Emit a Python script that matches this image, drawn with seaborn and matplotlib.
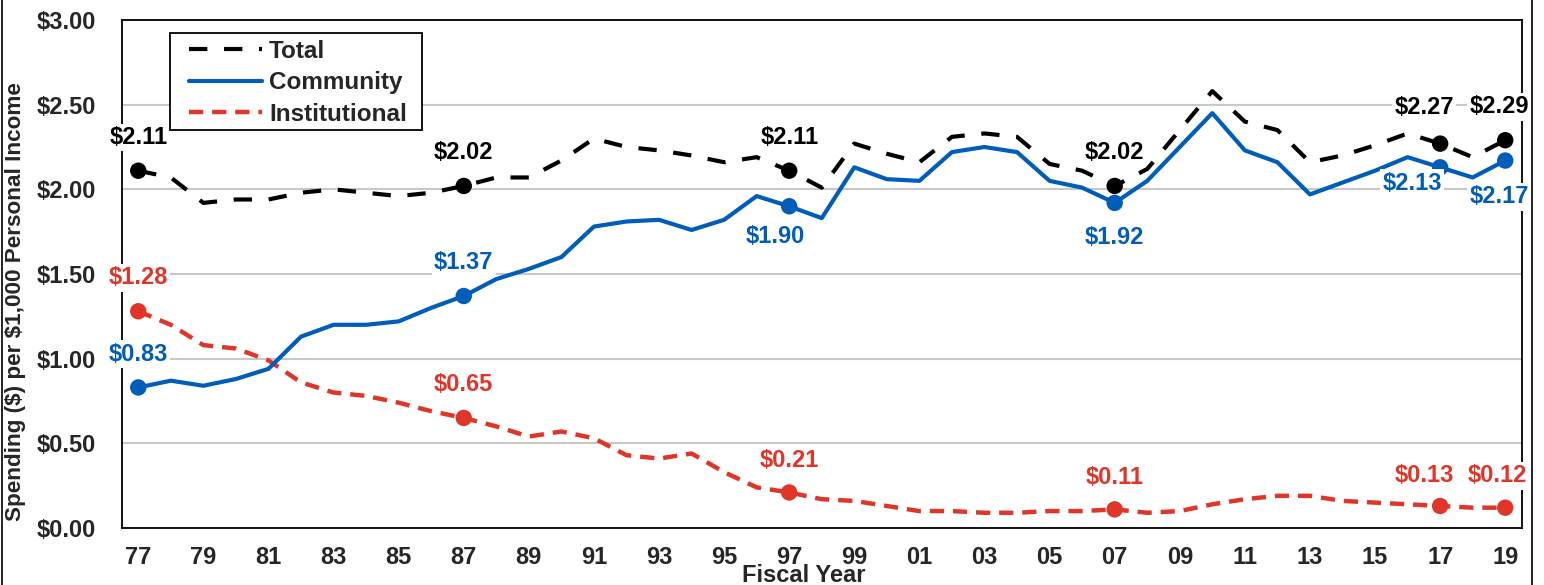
import matplotlib
matplotlib.use("Agg")
import matplotlib.pyplot as plt
import seaborn as sns
import pandas as pd
from matplotlib.lines import Line2D
from matplotlib.patches import Rectangle
from matplotlib.ticker import FuncFormatter, MultipleLocator

years = list(range(1977, 2020))
total = [2.11, 2.07, 1.92, 1.94, 1.94, 1.98, 2.00, 1.98, 1.96, 1.98,
         2.02, 2.07, 2.07, 2.17, 2.30, 2.25, 2.23, 2.20, 2.16, 2.19,
         2.11, 2.01, 2.27, 2.21, 2.16, 2.31, 2.33, 2.31, 2.15, 2.11,
         2.02, 2.12, 2.35, 2.58, 2.40, 2.35, 2.16, 2.20, 2.26, 2.33,
         2.27, 2.19, 2.29]
community = [0.83, 0.87, 0.84, 0.88, 0.94, 1.13, 1.20, 1.20, 1.22, 1.30,
             1.37, 1.47, 1.53, 1.60, 1.78, 1.81, 1.82, 1.76, 1.82, 1.96,
             1.90, 1.83, 2.13, 2.06, 2.05, 2.22, 2.25, 2.22, 2.05, 2.01,
             1.92, 2.05, 2.25, 2.45, 2.23, 2.16, 1.97, 2.04, 2.11, 2.19,
             2.13, 2.07, 2.17]
institutional = [1.28, 1.20, 1.08, 1.06, 0.99, 0.86, 0.80, 0.78, 0.74, 0.69,
                 0.65, 0.60, 0.54, 0.57, 0.53, 0.43, 0.41, 0.44, 0.33, 0.24,
                 0.21, 0.17, 0.16, 0.13, 0.10, 0.10, 0.09, 0.09, 0.10, 0.10,
                 0.11, 0.09, 0.10, 0.14, 0.17, 0.19, 0.19, 0.16, 0.15, 0.14,
                 0.13, 0.12, 0.12]
label_years = [1977, 1987, 1997, 2007, 2017, 2019]
series_names = ["Total", "Community", "Institutional"]

df = pd.DataFrame({"Year": years, "Total": total, "Community": community,
                   "Institutional": institutional})

sns.set_style("white")
plt.rcParams["font.family"] = ["Liberation Sans", "DejaVu Sans"]
plt.rcParams["font.weight"] = "bold"

BLACK = "#000000"
BLUE = "#005DB9"
RED = "#E0362A"
W, H = 1544, 585

fig = plt.figure(figsize=(15.44, 5.85), dpi=100)
ax = fig.add_axes([122 / W, 57 / H, (1521.5 - 122) / W, 508 / H])

sns.lineplot(data=df, x="Year", y="Institutional", ax=ax, color=RED, lw=3.2,
             linestyle=(0, (3.2, 2.0)), label="Institutional", zorder=3)
sns.lineplot(data=df, x="Year", y="Total", ax=ax, color=BLACK, lw=3.0,
             linestyle=(0, (4.4, 4.0)), label="Total", zorder=4)
sns.lineplot(data=df, x="Year", y="Community", ax=ax, color=BLUE, lw=3.0,
             label="Community", zorder=5)

dots = df[df["Year"].isin(label_years)]
colors = {"Total": BLACK, "Community": BLUE, "Institutional": RED}
for name in series_names:
    sns.scatterplot(data=dots, x="Year", y=name, ax=ax, color=colors[name],
                    s=140, edgecolor="none", zorder=6, legend=False)

# label offsets (points)
offsets = {
    "Total": {1977: (0, 24), 1987: (0, 24), 1997: (0, 24), 2007: (0, 24),
              2017: (-11.5, 26), 2019: (-4.5, 24)},
    "Community": {1977: (0, 24), 1987: (0, 24), 1997: (-10, -22),
                  2007: (0, -25), 2017: (-20, -11.5), 2019: (-4.5, -26)},
    "Institutional": {1977: (0, 24), 1987: (0, 24), 1997: (0, 23),
                      2007: (0, 23), 2017: (-11.5, 22), 2019: (-5.5, 23)},
}
for name in series_names:
    for _, row in dots.iterrows():
        yr = int(row["Year"])
        ax.annotate(f"${row[name]:.2f}", (yr, row[name]),
                    xytext=offsets[name][yr], textcoords="offset points",
                    ha="center", va="center", fontsize=17, fontweight="bold",
                    color=colors[name], zorder=10,
                    bbox=dict(boxstyle="square,pad=0.1", fc="white", ec="none"))

ax.set_xlim(1976.5, 2019.5)
ax.set_ylim(0, 3.0)
ax.set_xticks(years[::2])
ax.set_xticklabels([f"{y % 100:02d}" for y in years[::2]])
ax.yaxis.set_major_locator(MultipleLocator(0.5))
ax.yaxis.set_major_formatter(FuncFormatter(lambda v, p: f"${v:.2f}"))
ax.tick_params(axis="both", length=0, labelsize=17)
ax.tick_params(axis="y", pad=19)
ax.tick_params(axis="x", pad=13)
for lab in ax.get_xticklabels() + ax.get_yticklabels():
    lab.set_fontweight("bold")
ax.grid(axis="y", color="#C8C8C8", lw=1.5, zorder=0)
ax.set_axisbelow(True)
for sp in ax.spines.values():
    sp.set_visible(True)
    sp.set_color("black")
    sp.set_linewidth(1.3)
ax.set_xlabel("")
ax.set_ylabel("")

# legend box drawn separately for exact padding
box = Rectangle((170 / W, 1 - 130 / H), 252 / W, 97 / H, transform=fig.transFigure,
                fc="white", ec="black", lw=1.3, zorder=15, clip_on=False)
ax.add_patch(box)

handles, labels = ax.get_legend_handles_labels()
order = [labels.index(n) for n in series_names]
leg = ax.legend([handles[i] for i in order], [labels[i] for i in order],
                loc="upper left", bbox_to_anchor=(189 / W, 1 - 39.5 / H),
                bbox_transform=fig.transFigure,
                borderaxespad=0, frameon=False, fontsize=17.5,
                handlelength=3.0, handletextpad=0.3, labelspacing=0.36,
                borderpad=0)
for t in leg.get_texts():
    t.set_fontweight("bold")
leg.set_zorder(20)

fig.text(16 / W, 1 - 302 / H, "Spending (\\$) per \\$1,000 Personal Income",
         rotation=90, ha="center", va="center", fontsize=16.2, fontweight="bold")
fig.text(804 / W, 1 - 575 / H, "Fiscal Year", ha="center", va="center",
         fontsize=17, fontweight="bold")

fig.add_artist(Line2D([2 / W, 2 / W], [0, 1], transform=fig.transFigure,
                      color="black", lw=1.2))
fig.add_artist(Line2D([1532 / W, 1532 / W], [0, 1],
                      transform=fig.transFigure, color="black", lw=1.2))

fig.savefig("out.png", dpi=100)
